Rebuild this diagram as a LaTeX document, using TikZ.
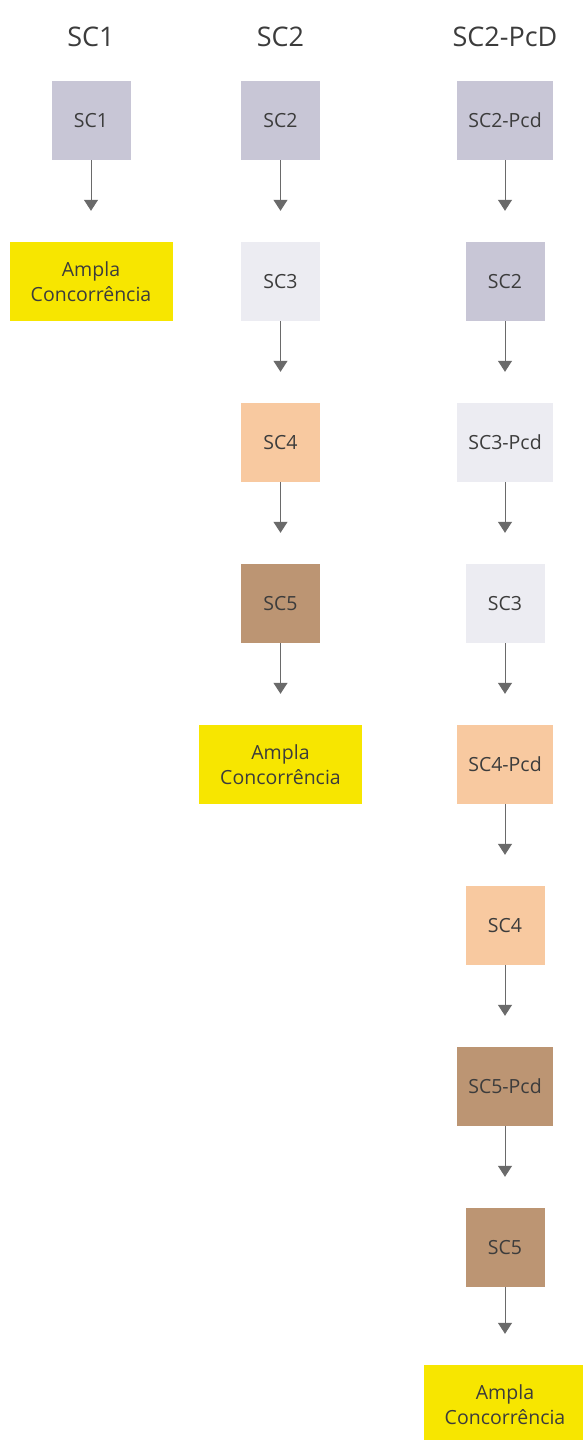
\documentclass[tikz,border=0pt]{standalone}
\usepackage{fontspec}
\setmainfont{Open Sans}
\usetikzlibrary{arrows.meta}
\definecolor{lilas}{HTML}{C8C6D6}
\definecolor{palido}{HTML}{ECECF2}
\definecolor{pessego}{HTML}{F8C9A0}
\definecolor{marrom}{HTML}{BC9573}
\definecolor{amarelo}{HTML}{F7E600}
\definecolor{texto}{HTML}{3C3C3C}
\definecolor{cinza}{HTML}{6A6A6A}
\begin{document}
\begin{tikzpicture}[x=1pt,y=-1pt,
  caixa/.style={fill=#1, minimum width=79pt, minimum height=79pt, inner sep=0pt, text=texto, font=\fontsize{19.5}{25}\selectfont},
  caixapcd/.style={caixa=#1, minimum width=96pt},
  ampla/.style={caixa=amarelo, minimum width=163pt, align=center},
  titulo/.style={anchor=base, text=texto, font=\fontsize{27}{32}\selectfont},
  seta/.style={draw=cinza, line width=1pt, -{Triangle[width=14pt,length=11pt]}, shorten >=31pt}]
\useasboundingbox[fill=white] (0,0) rectangle (583,1440);
% titulos
\node[titulo] (t1) at (91,46) {SC1};
\node[titulo] (t2) at (280.5,46) {SC2};
\node[titulo] (t3) at (505,46) {SC2-PcD};
% SC1
\node[caixa=lilas] (a1) at (91,120.5) {SC1};
\node[ampla] (a2) at (91,281.5) {Ampla\\Concorrência};
\draw[seta] (a1) -- (a2);
% SC2
\node[caixa=lilas] (b1) at (280.5,120.5) {SC2};
\node[caixa=palido] (b2) at (280.5,281.5) {SC3};
\node[caixa=pessego] (b3) at (280.5,442.5) {SC4};
\node[caixa=marrom] (b4) at (280.5,603.5) {SC5};
\node[ampla] (b5) at (280.5,764.5) {Ampla\\Concorrência};
\draw[seta] (b1) -- (b2);
\draw[seta] (b2) -- (b3);
\draw[seta] (b3) -- (b4);
\draw[seta] (b4) -- (b5);
% SC2-PcD
\node[caixapcd=lilas] (c1) at (505,120.5) {SC2-Pcd};
\node[caixa=lilas] (c2) at (505,281.5) {SC2};
\node[caixapcd=palido] (c3) at (505,442.5) {SC3-Pcd};
\node[caixa=palido] (c4) at (505,603.5) {SC3};
\node[caixapcd=pessego] (c5) at (505,764.5) {SC4-Pcd};
\node[caixa=pessego] (c6) at (505,925.5) {SC4};
\node[caixapcd=marrom] (c7) at (505,1086.5) {SC5-Pcd};
\node[caixa=marrom] (c8) at (505,1247.5) {SC5};
\node[ampla] (c9) at (505,1404.5) {Ampla\\Concorrência};
\draw[seta] (c1) -- (c2);
\draw[seta] (c2) -- (c3);
\draw[seta] (c3) -- (c4);
\draw[seta] (c4) -- (c5);
\draw[seta] (c5) -- (c6);
\draw[seta] (c6) -- (c7);
\draw[seta] (c7) -- (c8);
\draw[seta] (c8) -- (c9);
\end{tikzpicture}
\end{document}
